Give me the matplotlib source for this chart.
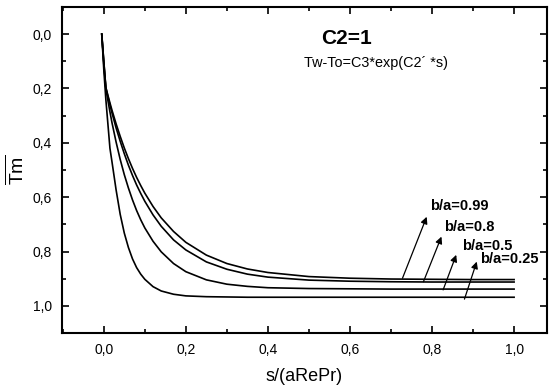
import matplotlib
matplotlib.use("Agg")
import matplotlib.pyplot as plt
from matplotlib.ticker import MultipleLocator, FuncFormatter

plt.rcParams['font.family'] = ['Liberation Sans', 'DejaVu Sans']
plt.rcParams['mathtext.fontset'] = 'custom'
plt.rcParams['mathtext.rm'] = 'Liberation Sans'

s = [-0.005, 0.0, 0.005, 0.01, 0.015, 0.02, 0.03, 0.04, 0.05, 0.06, 0.07, 0.08, 0.09, 0.1, 0.12,
     0.14, 0.17, 0.2, 0.25, 0.3, 0.35, 0.4, 0.5, 0.6, 0.7, 0.8, 0.9, 1.0]

tm_099 = [0.0, 0.10, 0.196, 0.225, 0.253, 0.280, 0.330, 0.376, 0.419, 0.458, 0.494, 0.527, 0.557, 0.585,
          0.634, 0.676, 0.726, 0.766, 0.813, 0.844, 0.864, 0.877, 0.892, 0.898, 0.901, 0.902, 0.903, 0.903]
tm_08 = [0.0, 0.10, 0.197, 0.229, 0.260, 0.290, 0.345, 0.394, 0.440, 0.482, 0.520, 0.555, 0.586, 0.615,
         0.665, 0.707, 0.757, 0.794, 0.838, 0.865, 0.883, 0.894, 0.905, 0.909, 0.911, 0.912, 0.912, 0.912]
tm_05 = [0.0, 0.11, 0.199, 0.244, 0.286, 0.326, 0.397, 0.461, 0.517, 0.566, 0.610, 0.649, 0.683, 0.713,
         0.762, 0.801, 0.844, 0.874, 0.904, 0.920, 0.928, 0.933, 0.936, 0.937, 0.938, 0.938, 0.938, 0.938]
tm_025 = [0.0, 0.13, 0.24, 0.33, 0.42, 0.47, 0.573, 0.663, 0.732, 0.785, 0.827, 0.859, 0.883, 0.902,
          0.929, 0.945, 0.957, 0.963, 0.966, 0.967, 0.968, 0.968, 0.968, 0.968, 0.968, 0.968, 0.968, 0.968]

labels = ['b/a=0.99', 'b/a=0.8', 'b/a=0.5', 'b/a=0.25']
arrow_tail = [(0.728, 0.898), (0.779, 0.911), (0.827, 0.941), (0.879, 0.975)]
arrow_head = [(0.787, 0.672), (0.823, 0.745), (0.859, 0.812), (0.909, 0.837)]
label_pos = [(0.796, 0.632), (0.830, 0.708), (0.873, 0.778), (0.918, 0.827)]

fig = plt.figure(figsize=(5.53, 3.86), dpi=100)
ax = fig.add_axes([0.112, 0.137, 0.877, 0.845])

for y in [tm_099, tm_08, tm_05, tm_025]:
    ax.plot(s, y, color='black', lw=1.2)

for lab, t, h, p in zip(labels, arrow_tail, arrow_head, label_pos):
    ax.annotate('', xy=h, xytext=t,
                arrowprops=dict(arrowstyle='-|>', color='black', lw=0.9,
                                mutation_scale=10, shrinkA=0, shrinkB=0))
    ax.text(p[0], p[1], lab, fontsize=10.5, fontweight='bold', va='center', ha='left')

ax.text(0.53, 0.015, 'C2=1', fontsize=15, fontweight='bold', va='center', ha='left')
ax.text(0.487, 0.108, 'Tw-To=C3*exp(C2\u00b4 *s)', fontsize=10.4, va='center', ha='left')

ax.set_xlim(-0.102, 1.08)
ax.set_ylim(1.1, -0.1)
ax.xaxis.set_major_locator(MultipleLocator(0.2))
ax.xaxis.set_minor_locator(MultipleLocator(0.1))
ax.yaxis.set_major_locator(MultipleLocator(0.2))
ax.yaxis.set_minor_locator(MultipleLocator(0.1))
comma = FuncFormatter(lambda v, pos: ('%.1f' % v).replace('.', ','))
ax.xaxis.set_major_formatter(comma)
ax.yaxis.set_major_formatter(comma)
ax.tick_params(which='both', direction='in', top=True, right=True, labelsize=10, width=1.2)
ax.tick_params(which='major', length=5, pad=7)
ax.tick_params(which='minor', length=3)
for sp in ax.spines.values():
    sp.set_linewidth(1.5)

ax.set_xlabel('s/(aRePr)', fontsize=13, labelpad=8)
ax.set_ylabel(r'$\overline{\mathrm{Tm}}$', fontsize=14)
ax.yaxis.set_label_coords(-0.07, 0.5)

fig.savefig('out.png', dpi=100)
